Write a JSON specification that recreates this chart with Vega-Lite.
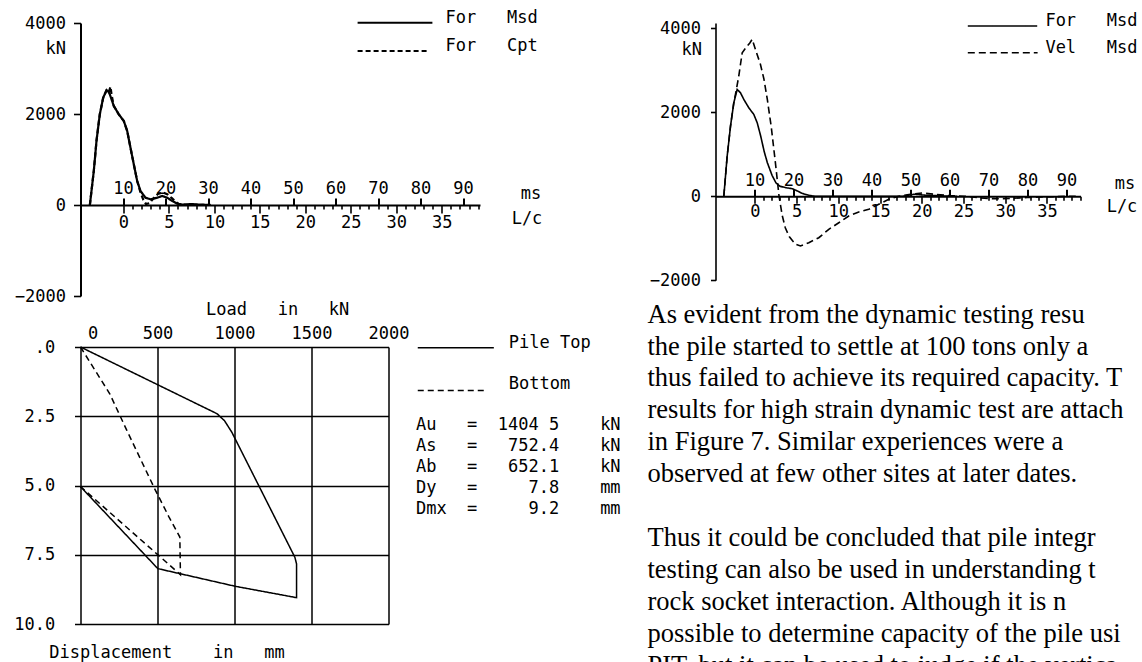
{
  "$schema": "https://vega.github.io/schema/vega-lite/v6.json",
  "background": "white",
  "padding": {"left": 13.5, "top": 8, "right": 0, "bottom": 0},
  "spacing": -4,
  "resolve": {"scale": {"strokeDash": "independent"}, "legend": {"strokeDash": "independent"}},
  "config": {
    "view": {"stroke": null},
    "font": "DejaVu Sans Mono",
    "axis": {
      "domainColor": "black", "tickColor": "black", "labelColor": "black", "titleColor": "black",
      "labelFont": "DejaVu Sans Mono", "titleFont": "DejaVu Sans Mono",
      "labelFontSize": 17, "titleFontSize": 17, "titleFontWeight": "normal",
      "grid": false, "labelFlush": false, "labelOverlap": false, "format": "d",
      "domainWidth": 2, "tickWidth": 1.6
    },
    "text": {"font": "DejaVu Sans Mono", "fontSize": 17, "color": "black"}
  },
  "vconcat": [
    {
      "bounds": "flush",
      "spacing": 235,
      "resolve": {"scale": {"strokeDash": "independent"}, "legend": {"strokeDash": "independent"}},
      "hconcat": [
        {
          "width": 399.5,
          "height": 273,
          "resolve": {"scale": {"x": "independent"}},
          "layer": [
            {
              "data": {"values": [
                {"series": "For Msd", "ms": 2.2, "kN": 0}, {"series": "For Msd", "ms": 3.13, "kN": 747}, {"series": "For Msd", "ms": 3.76, "kN": 1407}, {"series": "For Msd", "ms": 4.54, "kN": 1993}, {"series": "For Msd", "ms": 5.34, "kN": 2358}, {"series": "For Msd", "ms": 6.12, "kN": 2521}, {"series": "For Msd", "ms": 6.5, "kN": 2500}, {"series": "For Msd", "ms": 6.89, "kN": 2433}, {"series": "For Msd", "ms": 7.84, "kN": 2176}, {"series": "For Msd", "ms": 9.01, "kN": 1993}, {"series": "For Msd", "ms": 10.19, "kN": 1846}, {"series": "For Msd", "ms": 10.99, "kN": 1626}, {"series": "For Msd", "ms": 11.76, "kN": 1259}, {"series": "For Msd", "ms": 12.54, "kN": 895}, {"series": "For Msd", "ms": 13.34, "kN": 527}, {"series": "For Msd", "ms": 14.12, "kN": 308}, {"series": "For Msd", "ms": 15.29, "kN": 160}, {"series": "For Msd", "ms": 16.47, "kN": 125}, {"series": "For Msd", "ms": 18.05, "kN": 160}, {"series": "For Msd", "ms": 19.22, "kN": 198}, {"series": "For Msd", "ms": 20.4, "kN": 160}, {"series": "For Msd", "ms": 21.58, "kN": 88}, {"series": "For Msd", "ms": 22.75, "kN": 29}, {"series": "For Msd", "ms": 24, "kN": 10}, {"series": "For Msd", "ms": 26, "kN": 20}, {"series": "For Msd", "ms": 28, "kN": 10}, {"series": "For Msd", "ms": 30.6, "kN": 0},
                {"series": "For Cpt", "ms": 2.2, "kN": 0}, {"series": "For Cpt", "ms": 3.13, "kN": 747}, {"series": "For Cpt", "ms": 3.76, "kN": 1407}, {"series": "For Cpt", "ms": 4.54, "kN": 1993}, {"series": "For Cpt", "ms": 5.34, "kN": 2358}, {"series": "For Cpt", "ms": 6.12, "kN": 2521}, {"series": "For Cpt", "ms": 6.6, "kN": 2470}, {"series": "For Cpt", "ms": 7.06, "kN": 2600}, {"series": "For Cpt", "ms": 7.3, "kN": 2430}, {"series": "For Cpt", "ms": 7.84, "kN": 2176}, {"series": "For Cpt", "ms": 9.01, "kN": 1993}, {"series": "For Cpt", "ms": 10.19, "kN": 1846}, {"series": "For Cpt", "ms": 10.99, "kN": 1626}, {"series": "For Cpt", "ms": 11.76, "kN": 1259}, {"series": "For Cpt", "ms": 12.54, "kN": 895}, {"series": "For Cpt", "ms": 13.34, "kN": 527}, {"series": "For Cpt", "ms": 14.1, "kN": 280}, {"series": "For Cpt", "ms": 14.8, "kN": 110}, {"series": "For Cpt", "ms": 15.4, "kN": 20}, {"series": "For Cpt", "ms": 16.2, "kN": 40}, {"series": "For Cpt", "ms": 17.2, "kN": 150}, {"series": "For Cpt", "ms": 18.2, "kN": 240}, {"series": "For Cpt", "ms": 19.4, "kN": 280}, {"series": "For Cpt", "ms": 20.5, "kN": 230}, {"series": "For Cpt", "ms": 21.5, "kN": 150}, {"series": "For Cpt", "ms": 22.4, "kN": 70}, {"series": "For Cpt", "ms": 23.3, "kN": 15}, {"series": "For Cpt", "ms": 24.5, "kN": 0}, {"series": "For Cpt", "ms": 26, "kN": 10}, {"series": "For Cpt", "ms": 28, "kN": 0}, {"series": "For Cpt", "ms": 30.6, "kN": 5}
              ]},
              "mark": {"type": "line", "color": "black", "strokeWidth": 2.2},
              "encoding": {
                "x": {"field": "ms", "type": "quantitative", "scale": {"domain": [0, 94], "nice": false, "zero": false},
                  "axis": {"orient": "top", "offset": -182, "values": [10, 20, 30, 40, 50, 60, 70, 80, 90], "tickSize": 7, "tickWidth": 2, "labelPadding": 1,
                    "title": "ms", "titleX": 450, "titleY": -12, "titleAlign": "center", "titleBaseline": "middle", "titleAngle": 0}},
                "y": {"field": "kN", "type": "quantitative", "scale": {"domain": [-2000, 4000], "nice": false, "zero": false},
                  "axis": {"orient": "left", "values": [-2000, 0, 2000, 4000], "tickSize": 7, "labelPadding": 8,
                    "title": "kN", "titleAngle": 0, "titleX": -15, "titleY": 25, "titleAlign": "right", "titleBaseline": "middle"}},
                "strokeDash": {"field": "series", "type": "nominal", "scale": {"domain": ["For Msd", "For Cpt"], "range": [[1, 0], [5, 3]]}, "legend": null}
              }
            },
            {
              "data": {"values": [
                {"series": "For Msd", "x1": 65.2, "x2": 82.8, "kN": 4007},
                {"series": "For Cpt", "x1": 65.2, "x2": 82.1, "kN": 3385}
              ]},
              "mark": {"type": "rule", "color": "black", "strokeWidth": 2},
              "encoding": {
                "x": {"field": "x1", "type": "quantitative", "scale": {"domain": [0, 94], "nice": false, "zero": false},
                  "axis": {"orient": "bottom", "offset": -91, "domain": false,
                    "values": [10.1, 12.24, 14.38, 16.52, 18.66, 20.8, 22.94, 25.08, 27.22, 29.36, 31.5, 33.64, 35.78, 37.92, 40.06, 42.2, 44.34, 46.48, 48.62, 50.76, 52.9, 55.04, 57.18, 59.32, 61.46, 63.6, 65.74, 67.88, 70.02, 72.16, 74.3, 76.44, 78.58, 80.72, 82.86, 85, 87.14, 89.28, 91.42, 93.56],
                    "tickSize": {"condition": {"test": "round((datum.value-10.1)/2.14) % 5 === 0", "value": 8}, "value": 4},
                    "labelExpr": "(round((datum.value-10.1)/2.14) % 5 === 0 && datum.value < 86) ? '' + round((datum.value-10.1)/2.14) : ''",
                    "labelPadding": 1,
                    "title": "L/c", "titleX": 446, "titleY": 13, "titleAlign": "center", "titleBaseline": "middle", "titleAngle": 0}},
                "x2": {"field": "x2"},
                "y": {"field": "kN", "type": "quantitative"},
                "strokeDash": {"field": "series", "type": "nominal", "scale": {"domain": ["For Msd", "For Cpt"], "range": [[1, 0], [5, 3]]}, "legend": null}
              }
            },
            {
              "data": {"values": [
                {"text": "For\u00a0\u00a0\u00a0Msd", "ms": 85.9, "kN": 4116},
                {"text": "For\u00a0\u00a0\u00a0Cpt", "ms": 85.9, "kN": 3495}
              ]},
              "mark": {"type": "text", "align": "left", "baseline": "middle", "font": "DejaVu Sans Mono", "fontSize": 17, "color": "black"},
              "encoding": {
                "x": {"field": "ms", "type": "quantitative", "scale": {"domain": [0, 94], "nice": false, "zero": false}, "axis": null},
                "y": {"field": "kN", "type": "quantitative"},
                "text": {"field": "text"}
              }
            }
          ]
        },
        {
          "width": 365,
          "height": 257.3,
          "resolve": {"scale": {"x": "independent"}},
          "layer": [
            {
              "data": {"values": [
                {"series": "For Msd", "ms": 2.13, "kN": 0}, {"series": "For Msd", "ms": 3.0, "kN": 960}, {"series": "For Msd", "ms": 3.85, "kN": 1671}, {"series": "For Msd", "ms": 4.69, "kN": 2226}, {"series": "For Msd", "ms": 5.56, "kN": 2545}, {"series": "For Msd", "ms": 6.41, "kN": 2464}, {"series": "For Msd", "ms": 7.26, "kN": 2307}, {"series": "For Msd", "ms": 8.54, "kN": 2107}, {"series": "For Msd", "ms": 9.82, "kN": 1950}, {"series": "For Msd", "ms": 10.7, "kN": 1750}, {"series": "For Msd", "ms": 11.6, "kN": 1430}, {"series": "For Msd", "ms": 12.5, "kN": 1060}, {"series": "For Msd", "ms": 13.3, "kN": 800}, {"series": "For Msd", "ms": 14.5, "kN": 500}, {"series": "For Msd", "ms": 15.5, "kN": 320}, {"series": "For Msd", "ms": 16.5, "kN": 240}, {"series": "For Msd", "ms": 18, "kN": 205}, {"series": "For Msd", "ms": 19.7, "kN": 181}, {"series": "For Msd", "ms": 21, "kN": 126}, {"series": "For Msd", "ms": 22.2, "kN": 71}, {"series": "For Msd", "ms": 23.9, "kN": 24}, {"series": "For Msd", "ms": 25.5, "kN": 0}, {"series": "For Msd", "ms": 40, "kN": 0}, {"series": "For Msd", "ms": 48, "kN": 0}, {"series": "For Msd", "ms": 51, "kN": 50}, {"series": "For Msd", "ms": 54, "kN": 25}, {"series": "For Msd", "ms": 58, "kN": 10}, {"series": "For Msd", "ms": 62, "kN": 0},
                {"series": "Vel Msd", "ms": 2.13, "kN": 0}, {"series": "Vel Msd", "ms": 3.0, "kN": 960}, {"series": "Vel Msd", "ms": 3.85, "kN": 1671}, {"series": "Vel Msd", "ms": 4.69, "kN": 2226}, {"series": "Vel Msd", "ms": 5.13, "kN": 2429}, {"series": "Vel Msd", "ms": 5.97, "kN": 2864}, {"series": "Vel Msd", "ms": 6.85, "kN": 3419}, {"series": "Vel Msd", "ms": 8.13, "kN": 3579}, {"series": "Vel Msd", "ms": 8.8, "kN": 3650}, {"series": "Vel Msd", "ms": 9.41, "kN": 3738}, {"series": "Vel Msd", "ms": 10.3, "kN": 3480}, {"series": "Vel Msd", "ms": 11.5, "kN": 3150}, {"series": "Vel Msd", "ms": 12.4, "kN": 2800}, {"series": "Vel Msd", "ms": 13.3, "kN": 2300}, {"series": "Vel Msd", "ms": 14.3, "kN": 1650}, {"series": "Vel Msd", "ms": 15.3, "kN": 850}, {"series": "Vel Msd", "ms": 16.3, "kN": 0}, {"series": "Vel Msd", "ms": 17.1, "kN": -450}, {"series": "Vel Msd", "ms": 17.9, "kN": -750}, {"series": "Vel Msd", "ms": 18.9, "kN": -960}, {"series": "Vel Msd", "ms": 20.51, "kN": -1143}, {"series": "Vel Msd", "ms": 21.79, "kN": -1183}, {"series": "Vel Msd", "ms": 23.92, "kN": -1105}, {"series": "Vel Msd", "ms": 26.49, "kN": -986}, {"series": "Vel Msd", "ms": 29.05, "kN": -786}, {"series": "Vel Msd", "ms": 31.62, "kN": -629}, {"series": "Vel Msd", "ms": 34.18, "kN": -469}, {"series": "Vel Msd", "ms": 36.74, "kN": -374}, {"series": "Vel Msd", "ms": 39.31, "kN": -310}, {"series": "Vel Msd", "ms": 41.87, "kN": -190}, {"series": "Vel Msd", "ms": 44.44, "kN": -71}, {"series": "Vel Msd", "ms": 47, "kN": 0}, {"series": "Vel Msd", "ms": 50, "kN": 50}, {"series": "Vel Msd", "ms": 53, "kN": 80}, {"series": "Vel Msd", "ms": 56, "kN": 50}, {"series": "Vel Msd", "ms": 60, "kN": 15}, {"series": "Vel Msd", "ms": 64, "kN": 0}, {"series": "Vel Msd", "ms": 68, "kN": -40}, {"series": "Vel Msd", "ms": 72, "kN": -60}, {"series": "Vel Msd", "ms": 76, "kN": -50}, {"series": "Vel Msd", "ms": 80, "kN": -30}, {"series": "Vel Msd", "ms": 85, "kN": -15}, {"series": "Vel Msd", "ms": 90, "kN": 0}, {"series": "Vel Msd", "ms": 93, "kN": 0}
              ]},
              "mark": {"type": "line", "color": "black", "strokeWidth": 1.6},
              "encoding": {
                "x": {"field": "ms", "type": "quantitative", "scale": {"domain": [0, 93.6], "nice": false, "zero": false},
                  "axis": {"orient": "top", "offset": -173.3, "values": [10, 20, 30, 40, 50, 60, 70, 80, 90], "tickSize": 7, "tickWidth": 2, "labelPadding": 0,
                    "title": "ms", "titleX": 409, "titleY": -12.6, "titleAlign": "center", "titleBaseline": "middle", "titleAngle": 0}},
                "y": {"field": "kN", "type": "quantitative", "scale": {"domain": [-2000, 4126], "nice": false, "zero": false},
                  "axis": {"orient": "left", "values": [-2000, 0, 2000, 4000], "tickSize": 5, "labelPadding": 10, "domainWidth": 1.6,
                    "title": "kN", "titleAngle": 0, "titleX": -14, "titleY": 26.3, "titleAlign": "right", "titleBaseline": "middle"}},
                "strokeDash": {"field": "series", "type": "nominal", "scale": {"domain": ["For Msd", "Vel Msd"], "range": [[1, 0], [7, 4]]}, "legend": null}
              }
            },
            {
              "data": {"values": [
                {"series": "For Msd", "x1": 64.7, "x2": 82.5, "kN": 4055},
                {"series": "Vel Msd", "x1": 64.7, "x2": 82.6, "kN": 3419}
              ]},
              "mark": {"type": "rule", "color": "black", "strokeWidth": 1.6},
              "encoding": {
                "x": {"field": "x1", "type": "quantitative", "scale": {"domain": [0, 93.6], "nice": false, "zero": false},
                  "axis": {"orient": "bottom", "offset": -84, "domain": false,
                    "values": [10.1, 12.24, 14.38, 16.52, 18.66, 20.8, 22.94, 25.08, 27.22, 29.36, 31.5, 33.64, 35.78, 37.92, 40.06, 42.2, 44.34, 46.48, 48.62, 50.76, 52.9, 55.04, 57.18, 59.32, 61.46, 63.6, 65.74, 67.88, 70.02, 72.16, 74.3, 76.44, 78.58, 80.72, 82.86, 85, 87.14, 89.28, 91.42, 93.56],
                    "tickSize": {"condition": {"test": "round((datum.value-10.1)/2.14) % 5 === 0", "value": 7}, "value": 4},
                    "labelExpr": "(round((datum.value-10.1)/2.14) % 5 === 0 && datum.value < 86) ? '' + round((datum.value-10.1)/2.14) : ''",
                    "labelPadding": 0,
                    "title": "L/c", "titleX": 406, "titleY": 10, "titleAlign": "center", "titleBaseline": "middle", "titleAngle": 0}},
                "x2": {"field": "x2"},
                "y": {"field": "kN", "type": "quantitative"},
                "strokeDash": {"field": "series", "type": "nominal", "scale": {"domain": ["For Msd", "Vel Msd"], "range": [[1, 0], [7, 4]]}, "legend": null}
              }
            },
            {
              "data": {"values": [
                {"text": "For\u00a0\u00a0\u00a0Msd", "ms": 84.6, "kN": 4174},
                {"text": "Vel\u00a0\u00a0\u00a0Msd", "ms": 84.6, "kN": 3538}
              ]},
              "mark": {"type": "text", "align": "left", "baseline": "middle", "font": "DejaVu Sans Mono", "fontSize": 17, "color": "black"},
              "encoding": {
                "x": {"field": "ms", "type": "quantitative", "scale": {"domain": [0, 93.6], "nice": false, "zero": false}, "axis": null},
                "y": {"field": "kN", "type": "quantitative"},
                "text": {"field": "text"}
              }
            }
          ]
        }
      ]
    },
    {
      "bounds": "flush",
      "spacing": 259,
      "resolve": {"scale": {"strokeDash": "independent"}, "legend": {"strokeDash": "independent"}},
      "hconcat": [
        {
          "width": 308,
          "height": 277,
          "layer": [
            {
              "data": {"values": [
                {"curve": "Pile Top", "i": 0, "load": 0, "disp": 0}, {"curve": "Pile Top", "i": 1, "load": 887, "disp": 2.41}, {"curve": "Pile Top", "i": 2, "load": 935, "disp": 2.66}, {"curve": "Pile Top", "i": 3, "load": 983, "disp": 3.08}, {"curve": "Pile Top", "i": 4, "load": 1392, "disp": 7.59}, {"curve": "Pile Top", "i": 5, "load": 1403, "disp": 7.83}, {"curve": "Pile Top", "i": 6, "load": 1403, "disp": 9.05}, {"curve": "Pile Top", "i": 7, "load": 1288, "disp": 8.93}, {"curve": "Pile Top", "i": 8, "load": 1006, "disp": 8.64}, {"curve": "Pile Top", "i": 9, "load": 502, "disp": 8.0}, {"curve": "Pile Top", "i": 10, "load": 0, "disp": 5.04},
                {"curve": "Bottom", "i": 0, "load": 0, "disp": 0}, {"curve": "Bottom", "i": 1, "load": 190, "disp": 1.69}, {"curve": "Bottom", "i": 2, "load": 300, "disp": 3.0}, {"curve": "Bottom", "i": 3, "load": 480, "disp": 5.1}, {"curve": "Bottom", "i": 4, "load": 575, "disp": 6.14}, {"curve": "Bottom", "i": 5, "load": 645, "disp": 6.86}, {"curve": "Bottom", "i": 6, "load": 649, "disp": 8.22}, {"curve": "Bottom", "i": 7, "load": 0, "disp": 5.04}
              ]},
              "mark": {"type": "line", "color": "black", "strokeWidth": 1.5},
              "encoding": {
                "x": {"field": "load", "type": "quantitative", "scale": {"domain": [0, 2000], "nice": false, "zero": false},
                  "axis": {"orient": "top", "values": [0, 500, 1000, 1500, 2000], "grid": true, "gridColor": "black", "gridWidth": 1.5, "gridOpacity": 1,
                    "domain": false, "ticks": false, "tickSize": 0, "labelPadding": 5,
                    "labelOffset": {"condition": {"test": "datum.value === 0", "value": 12}, "value": 0},
                    "title": "Load\u00a0\u00a0\u00a0in\u00a0\u00a0\u00a0kN", "titleX": 125, "titleY": -37.4, "titleAlign": "left", "titleBaseline": "middle", "titleAngle": 0}},
                "y": {"field": "disp", "type": "quantitative", "scale": {"domain": [0, 10], "reverse": true, "nice": false, "zero": false},
                  "axis": {"orient": "left", "values": [0, 2.5, 5, 7.5, 10], "grid": true, "gridColor": "black", "gridWidth": 1.5, "gridOpacity": 1,
                    "domain": false, "tickSize": 6, "tickWidth": 1.5, "labelPadding": 19.7,
                    "labelExpr": "datum.value === 0 ? '.0' : format(datum.value, '.1f')",
                    "title": "Displacement\u00a0\u00a0\u00a0\u00a0in\u00a0\u00a0\u00a0mm", "titleX": -31.7, "titleY": 305.3, "titleAlign": "left", "titleBaseline": "middle", "titleAngle": 0}},
                "strokeDash": {"field": "curve", "type": "nominal", "scale": {"domain": ["Pile Top", "Bottom"], "range": [[1, 0], [6, 4]]}, "legend": null},
                "order": {"field": "i", "type": "quantitative"}
              }
            },
            {
              "data": {"values": [
                {"curve": "Pile Top", "load": 2190, "load2": 2684, "disp": 0.03},
                {"curve": "Bottom", "load": 2190, "load2": 2638, "disp": 1.57}
              ]},
              "mark": {"type": "rule", "color": "black", "strokeWidth": 1.5},
              "encoding": {
                "x": {"field": "load", "type": "quantitative"},
                "x2": {"field": "load2"},
                "y": {"field": "disp", "type": "quantitative"},
                "strokeDash": {"field": "curve", "type": "nominal", "scale": {"domain": ["Pile Top", "Bottom"], "range": [[1, 0], [6, 4]]}, "legend": null}
              }
            },
            {
              "data": {"values": [
                {"text": "Pile Top", "load": 2781, "disp": -0.13},
                {"text": "Bottom", "load": 2781, "disp": 1.33},
                {"text": "Au\u00a0\u00a0\u00a0=\u00a0\u00a01404\u00a05\u00a0\u00a0\u00a0\u00a0kN", "load": 2178, "disp": 2.8},
                {"text": "As\u00a0\u00a0\u00a0=\u00a0\u00a0\u00a0752.4\u00a0\u00a0\u00a0\u00a0kN", "load": 2178, "disp": 3.56},
                {"text": "Ab\u00a0\u00a0\u00a0=\u00a0\u00a0\u00a0652.1\u00a0\u00a0\u00a0\u00a0kN", "load": 2178, "disp": 4.32},
                {"text": "Dy\u00a0\u00a0\u00a0=\u00a0\u00a0\u00a0\u00a0\u00a07.8\u00a0\u00a0\u00a0\u00a0mm", "load": 2178, "disp": 5.08},
                {"text": "Dmx\u00a0\u00a0=\u00a0\u00a0\u00a0\u00a0\u00a09.2\u00a0\u00a0\u00a0\u00a0mm", "load": 2178, "disp": 5.84}
              ]},
              "mark": {"type": "text", "align": "left", "baseline": "middle", "font": "DejaVu Sans Mono", "fontSize": 17, "color": "black"},
              "encoding": {
                "x": {"field": "load", "type": "quantitative"},
                "y": {"field": "disp", "type": "quantitative"},
                "text": {"field": "text"}
              }
            }
          ]
        },
        {
          "width": 494,
          "height": 315,
          "layer": [
            {
              "data": {"values": [
                {"line": 1, "text": "As evident from the dynamic testing resu"},
                {"line": 2, "text": "the pile started to settle at 100 tons only a"},
                {"line": 3, "text": "thus failed to achieve its required capacity. T"},
                {"line": 4, "text": "results for high strain dynamic test are attach"},
                {"line": 5, "text": "in Figure 7. Similar experiences were a"},
                {"line": 6, "text": "observed at few other sites at later dates."},
                {"line": 8, "text": "Thus it could be concluded that pile integr"},
                {"line": 9, "text": "testing can also be used in understanding t"},
                {"line": 10, "text": "rock socket interaction. Although it is n"},
                {"line": 11, "text": "possible to determine capacity of the pile usi"}
              ]},
              "mark": {"type": "text", "align": "left", "baseline": "alphabetic", "font": "Liberation Serif", "fontSize": 26.5, "color": "black"},
              "encoding": {
                "x": {"datum": 0, "type": "quantitative", "scale": {"domain": [0, 1], "nice": false, "zero": false}, "axis": null},
                "y": {"field": "line", "type": "quantitative", "scale": {"domain": [1.7646, 11.636], "reverse": true, "nice": false, "zero": false}, "axis": null},
                "text": {"field": "text"}
              }
            },
            {
              "data": {"values": [
                {"line": 12, "text": "PIT, but it can be used to judge if the vertica"}
              ]},
              "mark": {"type": "text", "align": "left", "baseline": "alphabetic", "font": "Liberation Serif", "fontSize": 26.5, "color": "black", "clip": true},
              "encoding": {
                "x": {"datum": 0, "type": "quantitative", "axis": null},
                "y": {"field": "line", "type": "quantitative", "axis": null},
                "text": {"field": "text"}
              }
            }
          ]
        }
      ]
    }
  ]
}
